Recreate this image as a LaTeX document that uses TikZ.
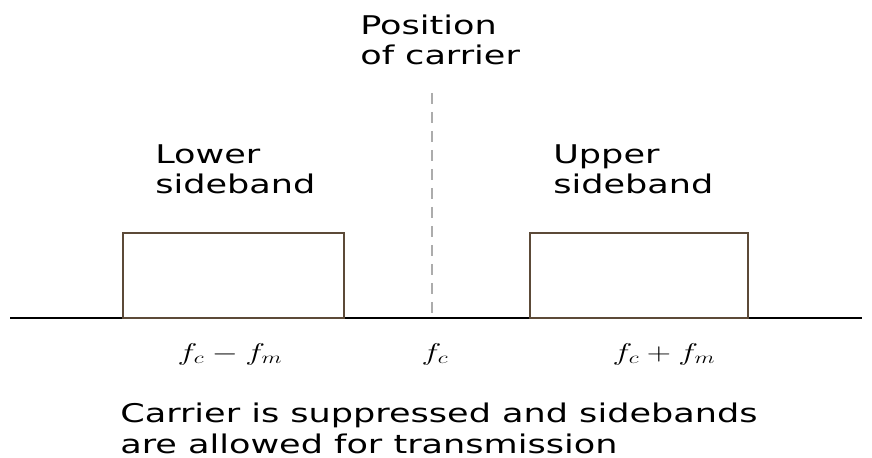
\documentclass[tikz,border=0pt]{standalone}
\usepackage{amsmath,amssymb}
\usepackage{fontspec}
\setmainfont{DejaVu Sans}
\usepackage{tikz}
\definecolor{bandbrown}{RGB}{92,74,56}
\tikzset{
  band/.style={draw=bandbrown, line width=2.4pt},
  lbl/.style={inner sep=0pt, xscale=1.36, font=\fontsize{22}{26}\selectfont, align=left},
  freq/.style={inner sep=0pt, xscale=1.38, font=\fontsize{20}{24}\selectfont}
}
\begin{document}
\begin{tikzpicture}[x=0.03cm, y=-0.03cm]
    \useasboundingbox (0,0) rectangle (872,458);
    % frequency axis
    \draw[line width=1.6pt] (10,318) -- (862,318);
    % carrier position (suppressed)
    \coordinate (ctop) at (432,93);
    \coordinate (cbot) at (432,318);
    \draw[gray!65, line width=1.8pt, dash pattern=on 9.4pt off 6.8pt] (ctop) -- (cbot);
    \node[lbl, anchor=base west] (carrier) at (360,65) {Position\\of carrier};
    % lower sideband
    \draw[band] (123,318) rectangle (344,233);
    \node[lbl, anchor=base west] (lsb) at (155,194) {Lower\\sideband};
    \node[freq, anchor=base] (flow) at (230,360) {$f_c - f_m$};
    % upper sideband
    \draw[band] (530,318) rectangle (748,233);
    \node[lbl, anchor=base west] (usb) at (553,194) {Upper\\sideband};
    \node[freq, anchor=base] (fup) at (664,360) {$f_c + f_m$};
    % carrier frequency
    \node[freq, anchor=base] (fc) at (435,360) {$f_c$};
    % caption
    \node[lbl, anchor=base west] (note) at (120,453) {Carrier is suppressed and sidebands\\are allowed for transmission};
\end{tikzpicture}
\end{document}
